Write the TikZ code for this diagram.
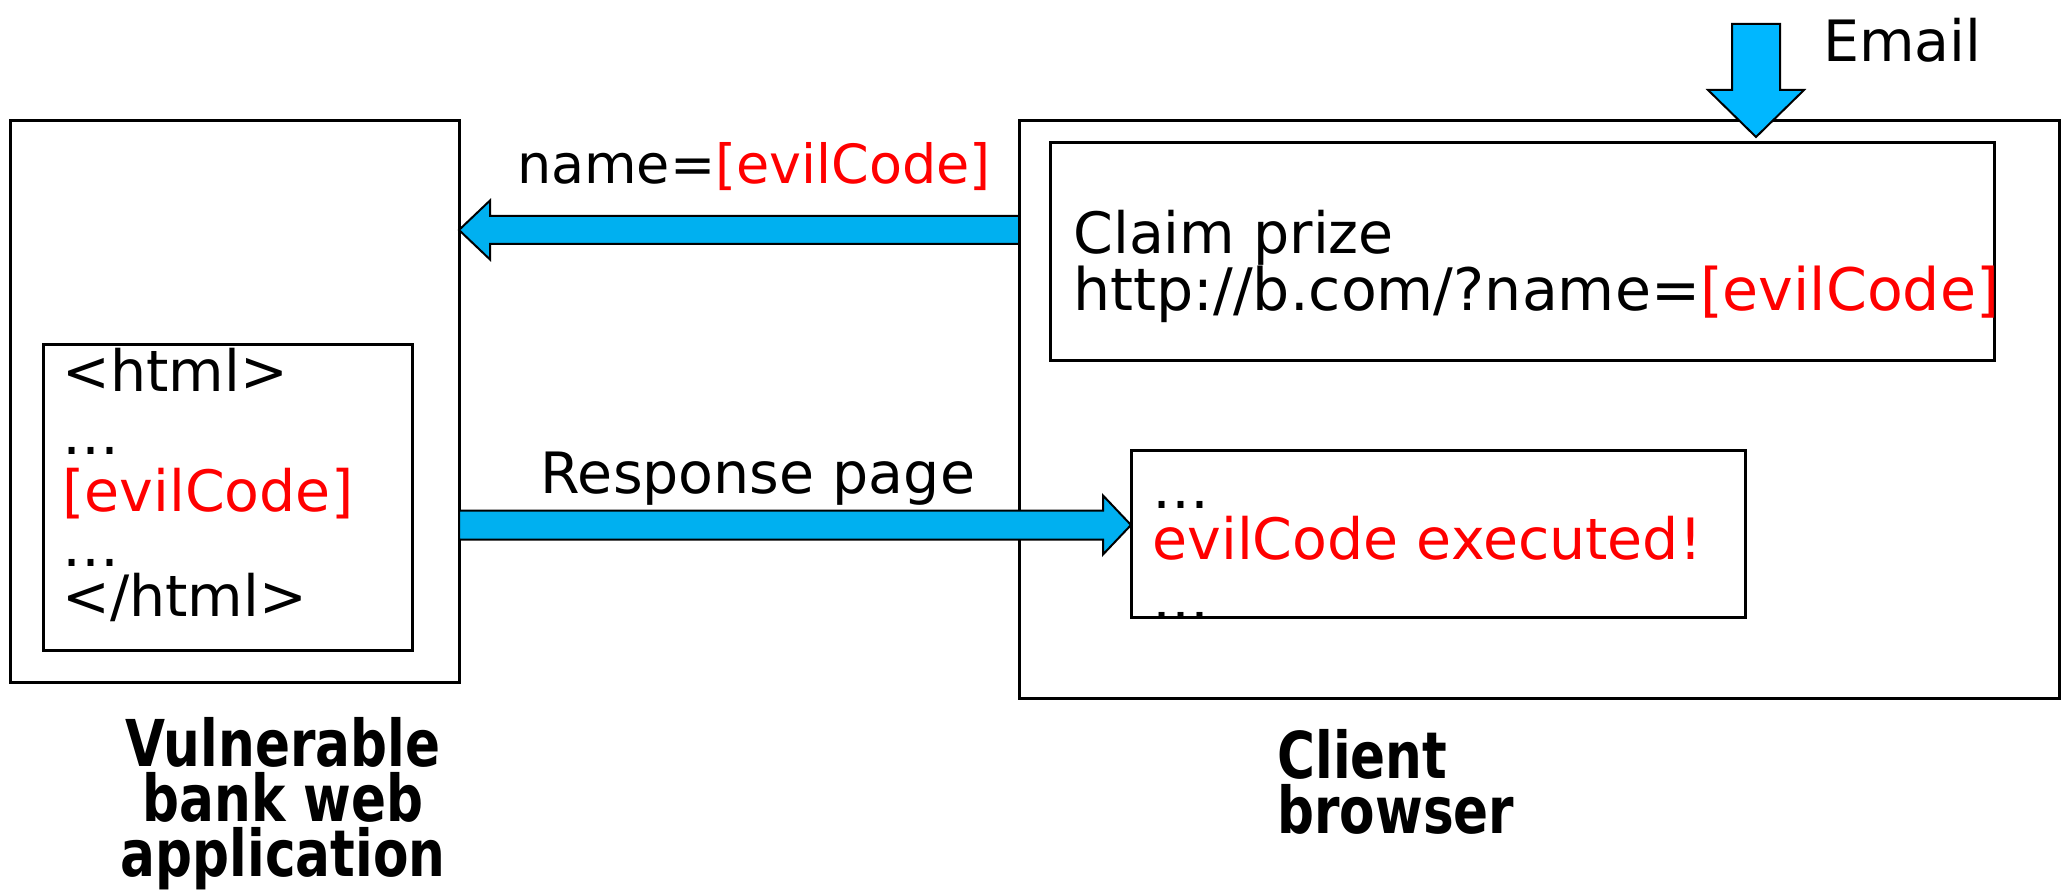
\documentclass[tikz,border=0pt]{standalone}
\usepackage{fontspec}
\setmainfont{DejaVu Sans}
\newfontfamily\lblfont[FakeStretch=0.8]{DejaVu Sans Bold}
\usetikzlibrary{calc,fit}
\definecolor{arrowblue}{RGB}{0,176,240}
\definecolor{mailblue}{RGB}{0,183,255}
\definecolor{evilred}{RGB}{255,0,0}
\newcommand{\evil}[1]{\textcolor{evilred}{#1}}

\begin{document}
\begin{tikzpicture}[x=0.5pt,y=-0.5pt,
  frame/.style={draw=black,line width=1.5pt,inner sep=0pt,outer sep=0pt},
  txt/.style={inner sep=0pt,font=\fontsize{28.5}{27.5}\selectfont},
  lbl/.style={inner sep=0pt,font=\lblfont\fontsize{32.3}{27.5}\selectfont},
  blockarrow/.style={draw=black,line width=1pt,fill=arrowblue,line join=miter},
  mailarrow/.style={draw=black,line width=1pt,fill=mailblue,line join=miter}]
\useasboundingbox (0,0) rectangle (2064,892);

% server side: the web application and the page it builds
\node[frame,fit={(10,121) (459,682)}] (bank) {};
\node[frame,fit={(43,345) (412,650)}] (page) {};

% client side: the browser, the mail it shows, and the rendered result
\node[frame,fit={(1019,121) (2059,698)}] (browser) {};
\node[frame,fit={(1050,143) (1994,361)}] (mail) {};
\node[frame,fit={(1131,451) (1745,617)}] (result) {};

% contents of the generated page
\node[txt,anchor=base west] (l1) at (62,392) {<html>};
\node[txt,anchor=base west] (l2) at (62,455) {…};
\node[txt,anchor=base west] (l3) at (62,511) {\evil{[evilCode]}};
\node[txt,anchor=base west] (l4) at (62,566) {…};
\node[txt,anchor=base west] (l5) at (62,616) {</html>};

% the link in the e-mail
\node[txt,anchor=base west] (m1) at (1073,254) {Claim prize};
\node[txt,anchor=base west,font=\fontsize{29.3}{27.5}\selectfont] (m2) at (1073,311) {http://b.com/?name=\evil{[evilCode]}};

% what the browser ends up running
\node[txt,anchor=base west] (r1) at (1152,508) {…};
\node[txt,anchor=base west] (r2) at (1152,559) {\evil{evilCode executed!}};
\node[txt,anchor=base west] (r3) at (1152,619) {…};

% request: browser -> web application
\coordinate (reqtip) at (bank.east |- 0,230);
\coordinate (reqtail) at (browser.west |- 0,230);
\draw[blockarrow] ($(reqtip)+(31,-14)$) -- ($(reqtip)+(31,-29.5)$) -- (reqtip)
  -- ($(reqtip)+(31,29.5)$) -- ($(reqtip)+(31,14)$) -- ($(reqtail)+(0,14)$)
  -- ($(reqtail)+(0,-14)$) -- cycle;
\node[txt,anchor=base,font=\fontsize{27}{27.5}\selectfont] (reqlbl) at (754,184) {name=\evil{[evilCode]}};

% response: web application -> browser
\coordinate (resptail) at (bank.east |- 0,525);
\coordinate (resptip) at (result.west |- 0,525);
\draw[blockarrow] ($(resptail)+(0,-14.5)$) -- ($(resptip)+(-28,-14.5)$)
  -- ($(resptip)+(-28,-29.5)$) -- (resptip) -- ($(resptip)+(-28,29.5)$)
  -- ($(resptip)+(-28,14.5)$) -- ($(resptail)+(0,14.5)$) -- cycle;
\node[txt,anchor=base] (resplbl) at (758,494) {Response page};

% incoming e-mail
\coordinate (mailtail) at (1756,24);
\coordinate (mailtip) at (1756,137);
\draw[mailarrow] ($(mailtail)+(-24,0)$) -- ($(mailtail)+(24,0)$)
  -- ($(mailtip)+(24,-47)$) -- ($(mailtip)+(48,-47)$) -- (mailtip)
  -- ($(mailtip)+(-48,-47)$) -- ($(mailtip)+(-24,-47)$) -- cycle;
\node[txt,anchor=base west] (maillbl) at (1823,62) {Email};

% captions (base anchor sits on the last line)
\node[lbl,anchor=base,align=center] (banklbl) at (283,876) {Vulnerable\\bank web\\application};
\node[lbl,anchor=base west,align=left] (browserlbl) at (1277,833) {Client\\browser};
\end{tikzpicture}
\end{document}
